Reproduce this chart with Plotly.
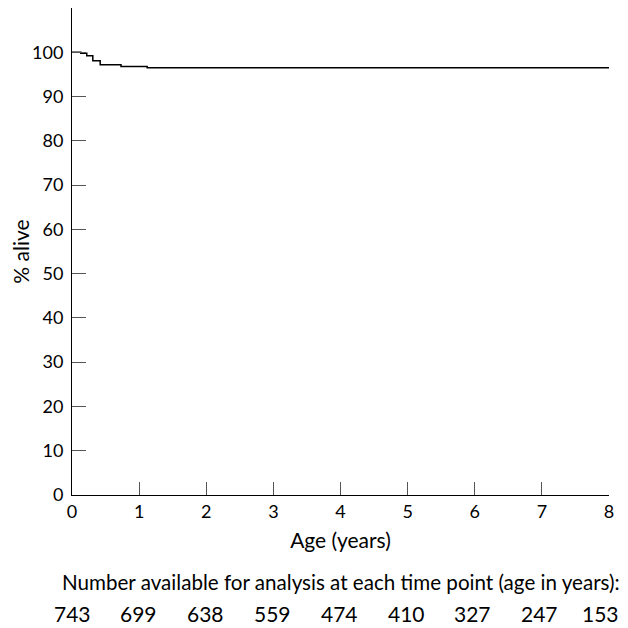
import plotly.graph_objects as go

# Kaplan-Meier style step data (age in years, % alive)
age_years = [0, 0.13, 0.22, 0.31, 0.42, 0.73, 1.12, 8.0]
pct_alive = [100, 99.8, 99.2, 98.1, 97.2, 96.8, 96.5, 96.5]

x_ticks = [0, 1, 2, 3, 4, 5, 6, 7, 8]
y_ticks = [0, 10, 20, 30, 40, 50, 60, 70, 80, 90, 100, 110]
y_tick_text = ["0", "10", "20", "30", "40", "50", "60", "70", "80", "90", "100", ""]
n_available = [743, 699, 638, 559, 474, 410, 327, 247, 153]

FONT = "Lato, 'DejaVu Sans', sans-serif"

fig = go.Figure()
fig.add_trace(go.Scatter(
    x=age_years, y=pct_alive, mode="lines", line_shape="hv",
    line=dict(color="black", width=1.5), showlegend=False, hoverinfo="skip"))

for i, (xv, n) in enumerate(zip(x_ticks, n_available)):
    shift = -9 if i == len(x_ticks) - 1 else -i * 0.3
    fig.add_annotation(x=xv, y=-0.244, xref="x", yref="paper", text=str(n),
                       showarrow=False, font=dict(size=21, color="black", family=FONT),
                       xanchor="center", yanchor="middle", xshift=shift)

fig.add_annotation(x=0.5, y=-0.1786, xref="paper", yref="paper",
                   text="Number available for analysis at each time point (age in years):",
                   showarrow=False, font=dict(size=20.6, color="black", family=FONT),
                   xanchor="center", yanchor="middle")

fig.update_layout(
    width=620, height=620,
    margin=dict(l=64, r=19, t=0, b=133),
    paper_bgcolor="white", plot_bgcolor="white",
    font=dict(family=FONT, color="black", size=18),
    xaxis=dict(range=[0, 8], tickvals=x_ticks, ticks="inside", ticklen=13,
               tickcolor="#555", showline=True, linecolor="black", linewidth=1,
               showgrid=False, zeroline=False,
               title=dict(text="Age (years)", font=dict(size=21), standoff=12),
               tickfont=dict(size=18)),
    yaxis=dict(range=[0, 110], tickvals=y_ticks, ticktext=y_tick_text,
               ticks="inside", ticklen=14, tickcolor="#555",
               showline=True, linecolor="black", linewidth=1,
               showgrid=False, zeroline=False, ticklabelstandoff=4,
               title=dict(text="% alive", font=dict(size=21), standoff=6),
               tickfont=dict(size=18)),
)

fig.write_html("out.html")
